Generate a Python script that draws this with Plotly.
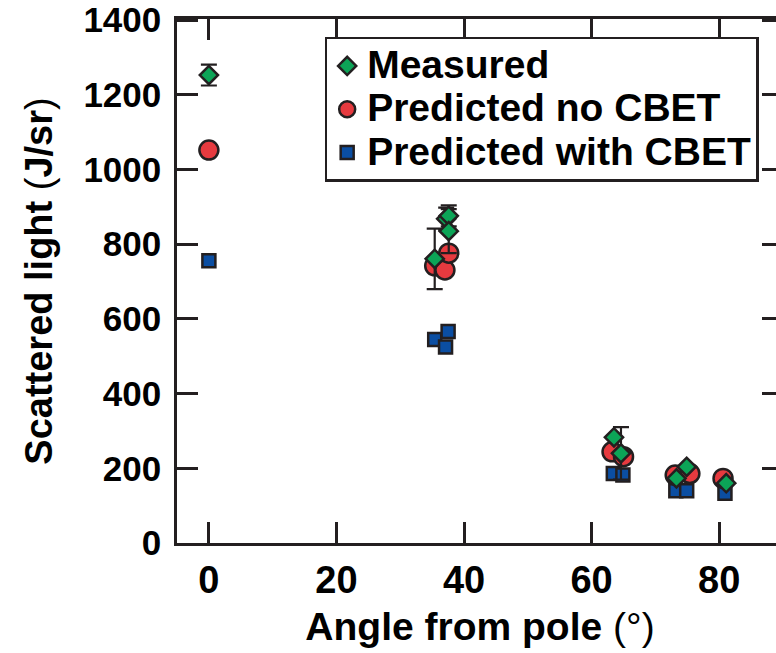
import plotly.graph_objects as go

# Scattered-light energy versus polar angle of the detector
meas_angle = [0.0, 35.4, 37.2, 37.6, 37.6, 63.5, 64.6, 73.3, 74.9, 81.1]
meas_value = [1253, 761, 868, 876, 835, 283, 240, 173, 204, 160]
meas_err = [28, 81, 30, 28, 59, None, 70, None, None, None]

nocbet_angle = [0.0, 35.4, 37.0, 37.6, 63.2, 65.0, 73.1, 75.4, 80.6]
nocbet_value = [1052, 742, 731, 776, 244, 231, 182, 186, 173]

cbet_angle = [0.0, 35.4, 37.1, 37.5, 63.4, 64.9, 73.2, 74.9, 80.9]
cbet_value = [756, 545, 525, 566, 186, 182, 140, 140, 133]

x_ticks = [0, 20, 40, 60, 80]
y_ticks = [0, 200, 400, 600, 800, 1000, 1200, 1400]

EDGE = "#231f20"
FONT = "Liberation Sans, Arial, Helvetica, sans-serif"


def legend_label(text):
    # larger glyphs inside a tighter legend row
    return f'<span style="font-size:39px">{text}</span>'


fig = go.Figure()

fig.add_trace(go.Scatter(
    x=cbet_angle, y=cbet_value, mode="markers",
    name=legend_label("Predicted with CBET"),
    marker=dict(symbol="square", size=13, color="#0b4ea2",
                line=dict(color=EDGE, width=2.5)),
))
fig.add_trace(go.Scatter(
    x=nocbet_angle, y=nocbet_value, mode="markers",
    name=legend_label("Predicted no CBET"),
    marker=dict(symbol="circle", size=19, color="#e63a3f",
                line=dict(color=EDGE, width=2.5)),
))
fig.add_trace(go.Scatter(
    x=meas_angle, y=meas_value, mode="markers",
    name=legend_label("Measured"),
    marker=dict(symbol="diamond", size=14, color="#0ca457",
                line=dict(color=EDGE, width=2.5)),
    error_y=dict(type="data", array=meas_err, visible=True,
                 color=EDGE, thickness=2.2, width=8),
))

axis_common = dict(
    showline=True, linecolor=EDGE, linewidth=2.5, mirror="ticks",
    ticks="inside", ticklen=21, tickwidth=2.5, tickcolor=EDGE,
    showgrid=False, zeroline=False,
)

fig.update_xaxes(
    range=[-5, 90], tickvals=x_ticks, ticktext=[str(v) for v in x_ticks],
    tickfont=dict(family=FONT, size=38, color="black", weight="bold"),
    ticklabelstandoff=2,
    title=dict(text="<b>Angle from pole </b>(°)",
               font=dict(family=FONT, size=39, color="black"), standoff=13),
    **axis_common,
)
fig.update_yaxes(
    range=[0, 1403], tickvals=y_ticks, ticktext=[str(v) for v in y_ticks],
    tickfont=dict(family=FONT, size=35, color="black", weight="bold"),
    ticklabelstandoff=6,
    title=dict(text="<b>Scattered light </b>(<b>J/sr</b>)",
               font=dict(family=FONT, size=38, color="black"), standoff=20),
    **axis_common,
)

fig.update_layout(
    width=783, height=653,
    margin=dict(l=177, r=0, t=19, b=110, autoexpand=False),
    paper_bgcolor="white", plot_bgcolor="white",
    showlegend=True,
    legend=dict(
        x=0.2437, y=0.966, xanchor="left", yanchor="top",
        traceorder="reversed",
        bgcolor="white", bordercolor=EDGE, borderwidth=2.5,
        font=dict(family=FONT, size=31, color="black", weight="bold"),
        itemwidth=30,
    ),
)

fig.write_html(
    "out.html",
    post_script="document.documentElement.style.overflow='hidden';"
                "document.body.style.overflow='hidden';",
)
